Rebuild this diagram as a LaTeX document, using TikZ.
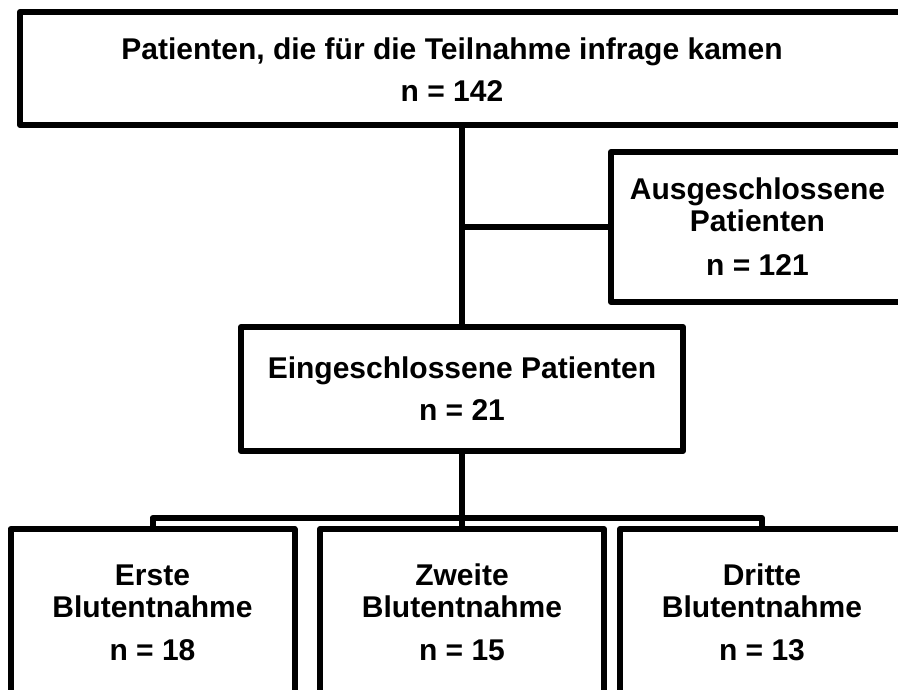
\documentclass[tikz,border=0pt]{standalone}
\usepackage{fontspec}
\setmainfont{Liberation Sans}
\usetikzlibrary{positioning, calc}
\tikzset{
  box/.style={draw=black, line width=6pt, line join=round, fill=white, align=center, inner sep=0pt},
  lbl/.style={align=center, inner sep=0pt},
  link/.style={draw=black, line width=6pt, line join=round}
}
\begin{document}
\begin{tikzpicture}[x=1pt, y=-1pt, font=\fontsize{30}{32}\selectfont\bfseries]
\useasboundingbox (0,0) rectangle (898,689);
% ---- upper boxes ----
\node[box, minimum width=884pt, minimum height=113pt] (elig) at (462,68.5) {};
\node[lbl] (eligt) at (452,70)
  {Patienten, die für die Teilnahme infrage kamen\\[10pt] n = 142};
\node[box, minimum width=293pt, minimum height=150pt] (excl) at (757.5,227)
  {Ausgeschlossene\\Patienten\\[12pt] n = 121};
\node[box, minimum width=442pt, minimum height=124pt] (incl) at (462,389)
  {Eingeschlossene Patienten\\[10pt] n = 21};
% ---- blood samples (cut off at the lower edge) ----
\foreach \i/\x/\a/\n in {1/152.5/Erste/18, 2/462/Zweite/15, 3/762/Dritte/13}{
  \node[box, minimum width=284pt, minimum height=191pt] (b\i) at (\x,624.5) {};
  \node[lbl] (t\i) at (\x,612.5) {\a\\Blutentnahme\\[11pt] n = \n};
}
% ---- connectors ----
\coordinate (fork) at (b2.north |- 0,518);
\draw[link] (elig.south) -- (elig.south |- incl.north);
\draw[link] (elig.south |- excl.west) -- (excl.west);
\draw[link] (incl.south) -- (b2.north);
\draw[link] (b1.north) |- (fork) -| (b3.north);
\end{tikzpicture}
\end{document}
